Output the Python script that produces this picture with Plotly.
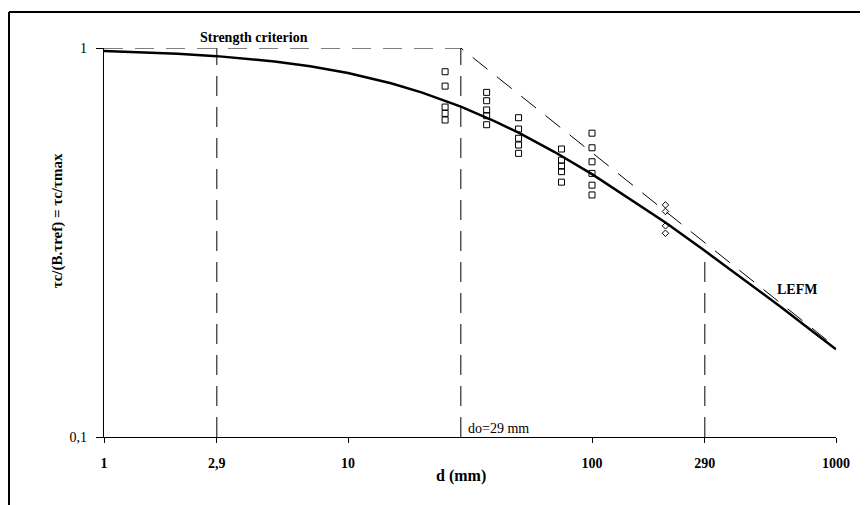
import plotly.graph_objects as go

# Size-effect curve
curve_d = [1, 1.5, 2, 2.9, 4, 5, 7, 10, 15, 20, 29, 40, 50, 70, 100, 150, 200, 290, 400, 600, 800, 1000]
curve_t = [0.983, 0.975, 0.967, 0.953, 0.937, 0.923, 0.897, 0.862, 0.812, 0.769, 0.707, 0.648,
           0.606, 0.541, 0.474, 0.402, 0.356, 0.301, 0.260, 0.215, 0.187, 0.168]

# Strength criterion / LEFM asymptotes
asym_d = [1, 29, 1000]
asym_t = [1.0, 1.0, 0.170]

# Test results (squares)
sq_d = [25]*5 + [37]*5 + [50]*5 + [75]*5 + [100]*6
sq_t = [0.869, 0.798, 0.705, 0.679, 0.653,
        0.769, 0.732, 0.693, 0.670, 0.635,
        0.662, 0.619, 0.586, 0.563, 0.536,
        0.550, 0.515, 0.497, 0.481, 0.452,
        0.604, 0.554, 0.510, 0.476, 0.444, 0.419]

# Test results (diamonds)
dm_d = [200, 200, 200, 200]
dm_t = [0.395, 0.380, 0.349, 0.334]

# Reference verticals
vlines_d = [2.9, 29, 290]
vlines_top = [1.0, 1.0, 0.29]

x_tickvals = [1, 2.9, 10, 100, 290, 1000]
x_ticktext = ["1", "2,9", "10", "100", "290", "1000"]
y_tickvals = [0.1, 1]
y_ticktext = ["0,1", "1"]

SERIF = "Liberation Serif, Times New Roman, serif"

fig = go.Figure()

for xd, top in zip(vlines_d, vlines_top):
    fig.add_trace(go.Scatter(x=[xd, xd], y=[0.1, top], mode="lines",
                             line=dict(color="black", width=1, dash="20px,11px"),
                             showlegend=False, hoverinfo="skip"))

fig.add_trace(go.Scatter(x=asym_d, y=asym_t, mode="lines",
                         line=dict(color="black", width=1, dash="19px,12px"),
                         showlegend=False, cliponaxis=False))

fig.add_trace(go.Scatter(x=curve_d, y=curve_t, mode="lines",
                         line=dict(color="black", width=2.5),
                         showlegend=False, cliponaxis=False))

fig.add_trace(go.Scatter(x=sq_d, y=sq_t, mode="markers",
                         marker=dict(symbol="square-open", size=6, color="black",
                                     line=dict(width=1)),
                         showlegend=False))

fig.add_trace(go.Scatter(x=dm_d, y=dm_t, mode="markers",
                         marker=dict(symbol="diamond-open", size=5, color="black",
                                     line=dict(width=1)),
                         showlegend=False))

fig.update_xaxes(type="log", range=[0, 3], showgrid=False, zeroline=False,
                 showline=True, linecolor="black", linewidth=1.2,
                 ticks="outside", ticklen=5, tickcolor="black",
                 tickvals=x_tickvals, ticktext=["<b>%s</b>" % t for t in x_ticktext],
                 tickfont=dict(family=SERIF, size=14, color="black"),
                 ticklabelstandoff=8)
fig.update_yaxes(type="log", range=[-1, 0], showgrid=False, zeroline=False,
                 showline=True, linecolor="black", linewidth=1.2,
                 ticks="outside", ticklen=7, tickcolor="black",
                 tickvals=y_tickvals, ticktext=y_ticktext,
                 tickfont=dict(family=SERIF, size=14, color="black"),
                 ticklabelstandoff=6)

annots = [
    dict(x=-0.064, y=0.555, text="<b>τc/(B.τref) = τc/τmax</b>", textangle=-90,
         font=dict(family=SERIF, size=15, color="black")),
    dict(x=0.4877, y=-0.100, text="<b>d (mm)</b>",
         font=dict(family=SERIF, size=16, color="black")),
    dict(x=0.205, y=1.026, text="<b>Strength criterion</b>",
         font=dict(family=SERIF, size=14, color="black")),
    dict(x=0.9467, y=0.380, text="<b>LEFM</b>",
         font=dict(family=SERIF, size=14, color="black")),
    dict(x=0.4945, y=0.023, text="do=29 mm", xanchor="left",
         font=dict(family=SERIF, size=14, color="black")),
]
for a in annots:
    a.setdefault("xanchor", "center")
    fig.add_annotation(xref="paper", yref="paper", showarrow=False, yanchor="middle", **a)

# outer frame (top and left edges)
fig.add_shape(type="line", xref="paper", yref="paper", x0=-0.1298, x1=1.06, y0=1.0925, y1=1.0925,
              line=dict(color="black", width=2))
fig.add_shape(type="line", xref="paper", yref="paper", x0=-0.1298, x1=-0.1298, y0=1.0925, y1=-0.2,
              line=dict(color="black", width=2))

fig.update_layout(width=868, height=505, plot_bgcolor="white", paper_bgcolor="white",
                  margin=dict(l=96, r=40, t=40, b=76), showlegend=False)

fig.write_html("out.html")
